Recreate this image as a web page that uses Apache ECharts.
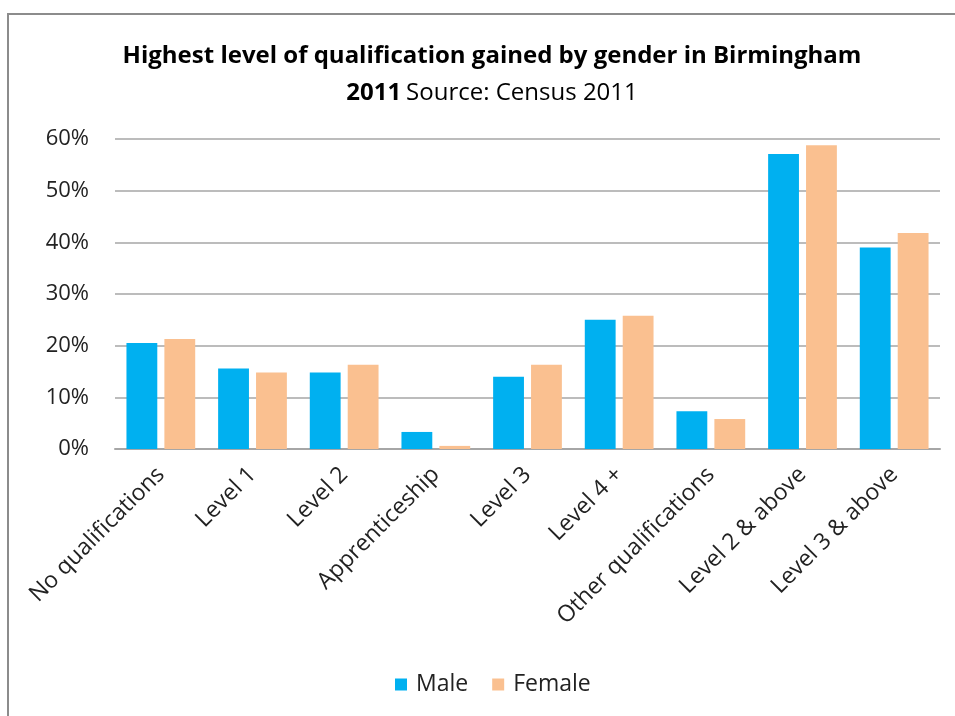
<!DOCTYPE html>
<html>
<head>
<meta charset="utf-8">
<script src="https://cdn.jsdelivr.net/npm/echarts@6/dist/echarts.min.js"></script>
<style>
html,body{margin:0;padding:0;background:#fff;}
#frame{position:absolute;left:7px;top:13px;width:960px;height:720px;border:2px solid #8c8c8c;box-sizing:border-box;}
#chart{position:absolute;left:0;top:0;width:955px;height:716px;}
</style>
</head>
<body>
<div id="frame"></div>
<div id="chart"></div>
<script>
const categories = ["No qualifications","Level 1","Level 2","Apprenticeship","Level 3","Level 4 +","Other qualifications","Level 2 & above","Level 3 & above"];
const maleValues = [20.5, 15.6, 14.8, 3.3, 14.0, 25.0, 7.3, 57.1, 39.0];
const femaleValues = [21.3, 14.8, 16.3, 0.6, 16.3, 25.8, 5.8, 58.8, 41.8];
const yTicks = [0, 10, 20, 30, 40, 50, 60];

const font = '"Open Sans", sans-serif';
const chart = echarts.init(document.getElementById('chart'), null, {renderer:'canvas'});
chart.setOption({
  backgroundColor: 'transparent',
  animation: false,
  title: {
    text: '{b|Highest level of qualification gained by gender in Birmingham}\n{b|2011} {n|Source: Census 2011}',
    left: 487,
    textAlign: 'center',
    top: 33,
    textStyle: {
      rich: {
        b: {fontFamily: font, fontWeight: 'bold', fontSize: 24, color: '#000', lineHeight: 37},
        n: {fontFamily: font, fontWeight: 'normal', fontSize: 24, color: '#000', lineHeight: 37}
      }
    }
  },
  legend: {
    bottom: 15,
    left: 390,
    itemWidth: 12,
    itemHeight: 12,
    itemGap: 24,
    icon: 'rect',
    textStyle: {fontFamily: font, fontSize: 23, color: '#222', padding: [0, 0, 0, 4]},
    data: ['Male','Female']
  },
  grid: {left: 115, right: 15, top: 139, bottom: 267, containLabel: false},
  xAxis: {
    type: 'category',
    data: categories,
    axisLine: {lineStyle: {color: '#a6a6a6', width: 2}},
    axisTick: {show: false},
    axisLabel: {rotate: 45, interval: 0, fontFamily: font, fontSize: 23, color: '#222', margin: 22}
  },
  yAxis: {
    type: 'value',
    min: yTicks[0],
    max: yTicks[yTicks.length-1],
    interval: 10,
    axisLine: {show: false},
    axisTick: {show: false},
    splitLine: {lineStyle: {color: '#a6a6a6', width: 1.5}},
    axisLabel: {fontFamily: font, fontSize: 22, color: '#222', margin: 26, formatter: v => v + '%'}
  },
  series: [
    {name: 'Male', type: 'bar', data: maleValues, barCategoryGap: '25%', barGap: '23%',
     itemStyle: {color: '#00b0f0'}},
    {name: 'Female', type: 'bar', data: femaleValues,
     itemStyle: {color: '#fac090'}}
  ]
});
</script>
</body>
</html>
